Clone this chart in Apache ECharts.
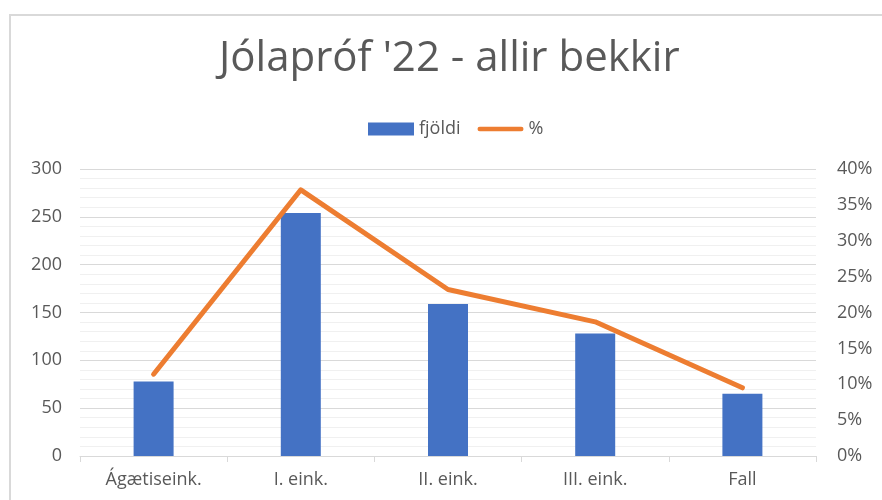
<!DOCTYPE html>
<html lang="is">
<head>
    <meta charset="UTF-8">
    <title>Jólapróf '22 - allir bekkir</title>
    <script type="text/javascript" src="https://cdn.jsdelivr.net/npm/echarts@6/dist/echarts.min.js"></script>
    <style>
        html, body { margin: 0; padding: 0; background: #fff; }
    </style>
</head>
<body>
<div id="chart" style="width: 882px;height:500px;"></div>
<script>
    var categories = ['Ágætiseink.', 'I. eink.', 'II. eink.', 'III. eink.', 'Fall'];
    var fjoldi = [78, 254, 159, 128, 65];
    var percent = [11.4, 37.1, 23.2, 18.7, 9.5];

    var textColor = '#595959';
    var font = 'Open Sans';

    var option = {
        animation: false,
        textStyle: { fontFamily: font },
        title: {
            text: "Jólapróf '22 - allir bekkir",
            left: 214,
            top: 33,
            textStyle: {
                color: textColor,
                fontSize: 42,
                fontWeight: 'normal',
                fontFamily: font
            }
        },
        legend: {
            top: 115,
            left: 363,
            itemWidth: 46,
            itemHeight: 13,
            itemGap: 17,
            textStyle: { color: textColor, fontSize: 18, padding: [0, 0, 0, 0] },
            data: [
                { name: 'fjöldi', icon: 'rect' },
                {
                    name: '%',
                    icon: 'path://M2.5,0 L49.5,0 A2.5,2.5 0 0 1 49.5,5 L2.5,5 A2.5,2.5 0 0 1 2.5,0 Z',
                    itemStyle: { color: '#ED7D31' }
                }
            ]
        },
        grid: {
            left: 80,
            right: 66,
            top: 169,
            bottom: 44,
            containLabel: false
        },
        xAxis: {
            type: 'category',
            data: categories,
            axisLine: { lineStyle: { color: '#d9d9d9', width: 1 } },
            axisTick: { show: true, length: 6, lineStyle: { color: '#d9d9d9' } },
            axisLabel: { color: textColor, fontSize: 18, margin: 15 }
        },
        yAxis: [
            {
                type: 'value',
                min: 0,
                max: 300,
                interval: 50,
                axisLine: { show: false },
                axisTick: { show: false },
                axisLabel: { color: textColor, fontSize: 18, margin: 18 },
                splitLine: { lineStyle: { color: '#d9d9d9', width: 1 } },
                minorTick: { show: false, splitNumber: 5 },
                minorSplitLine: { show: true, lineStyle: { color: '#f0f0f0', width: 1 } }
            },
            {
                type: 'value',
                min: 0,
                max: 40,
                interval: 5,
                axisLine: { show: false },
                axisTick: { show: false },
                splitLine: { show: false },
                axisLabel: {
                    color: textColor,
                    fontSize: 18,
                    margin: 21,
                    formatter: '{value}%'
                }
            }
        ],
        graphic: [
            {
                type: 'rect',
                shape: { x: 10, y: 15, width: 900, height: 520 },
                style: { fill: 'none', stroke: '#d9d9d9', lineWidth: 2 },
                silent: true,
                z: -10
            }
        ],
        series: [
            {
                name: 'fjöldi',
                type: 'bar',
                data: fjoldi,
                barWidth: 40,
                itemStyle: { color: '#4472C4' }
            },
            {
                name: '%',
                type: 'line',
                yAxisIndex: 1,
                data: percent,
                symbol: 'none',
                lineStyle: { color: '#ED7D31', width: 5, cap: 'round', join: 'round' },
                itemStyle: { color: '#ED7D31' }
            }
        ]
    };

    var myChart = echarts.init(document.getElementById('chart'));
    myChart.setOption(option);
</script>
</body>
</html>
